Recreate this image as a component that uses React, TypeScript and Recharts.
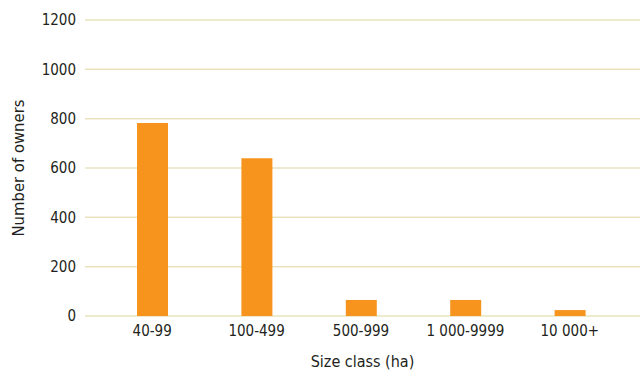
import React from "react";
import { BarChart, Bar, XAxis, YAxis, CartesianGrid, Label } from "recharts";

const categories = ["40-99", "100-499", "500-999", "1 000-9999", "10 000+"];
const owners = [782, 640, 65, 65, 24];
const yTicks = [0, 200, 400, 600, 800, 1000, 1200];

const data = categories.map((c, i) => ({ name: c, owners: owners[i] }));

const FONT = "'DejaVu Sans Condensed', 'DejaVu Sans', sans-serif";
const TEXT = "#231f20";
const textStyle = { fontStretch: "condensed" as const };

export default function App() {
  return (
    <div style={{ position: "absolute", left: 0, top: 0, width: 641, height: 373, background: "#fff" }}>
      <BarChart
        width={641}
        height={373}
        data={data}
        margin={{ top: 20, right: 1, bottom: 27, left: 0 }}
      >
        <CartesianGrid vertical={false} stroke="#e9e3bd" strokeWidth={1.5} />
        <XAxis
          dataKey="name"
          height={30}
          axisLine={false}
          tickLine={false}
          tickSize={0}
          tickMargin={9}
          padding={{ left: 15, right: 18 }}
          tick={{ fill: TEXT, fontSize: 15, fontFamily: FONT, style: textStyle }}
          interval={0}
        >
          <Label
            content={({ viewBox }: any) => (
              <text
                x={viewBox.x + viewBox.width / 2}
                y={361}
                textAnchor="middle"
                dominantBaseline="central"
                fill={TEXT}
                fontSize={16}
                fontFamily={FONT}
                style={textStyle}
              >
                Size class (ha)
              </text>
            )}
          />
        </XAxis>
        <YAxis
          width={85}
          domain={[0, 1200]}
          ticks={yTicks}
          axisLine={false}
          tickLine={false}
          tickSize={0}
          tickMargin={9}
          tick={{ fill: TEXT, fontSize: 15, fontFamily: FONT, style: textStyle }}
        >
          <Label
            content={({ viewBox }: any) => {
              const cx = 18;
              const cy = viewBox.y + viewBox.height / 2;
              return (
                <text
                  x={cx}
                  y={cy}
                  textAnchor="middle"
                  dominantBaseline="central"
                  transform={`rotate(-90, ${cx}, ${cy})`}
                  fill={TEXT}
                  fontSize={16.5}
                  fontFamily={FONT}
                  style={textStyle}
                >
                  Number of owners
                </text>
              );
            }}
          />
        </YAxis>
        <Bar dataKey="owners" fill="#f7941d" barSize={31} isAnimationActive={false} />
      </BarChart>
    </div>
  );
}
